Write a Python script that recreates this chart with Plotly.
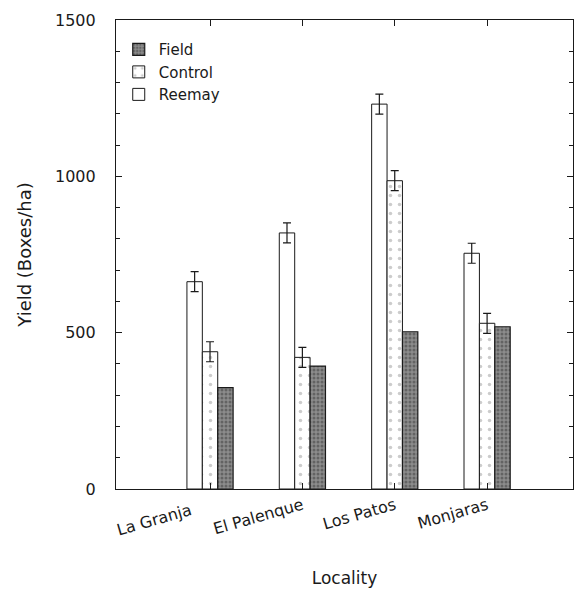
import plotly.graph_objects as go

localities = ["La Granja", "El Palenque", "Los Patos", "Monjaras"]
tick_text = ["La Granja\u00a0\u00a0\u00a0\u00a0", "El Palenque", "Los Patos", "Monjaras"]
reemay = [663, 819, 1231, 754]
control = [439, 421, 986, 530]
field = [324, 393, 503, 519]
reemay_err = [32, 32, 32, 32]
control_err = [32, 32, 32, 32]
y_ticks = [0, 500, 1000, 1500]

FONT = "DejaVu Sans"
INK = "#1a1a1a"

fig = go.Figure()
fig.add_trace(go.Bar(
    name="Reemay", x=localities, y=reemay,
    marker=dict(color="white", line=dict(color=INK, width=1)),
    error_y=dict(type="data", array=reemay_err, color=INK, thickness=1.2, width=4),
))
fig.add_trace(go.Bar(
    name="Control", x=localities, y=control,
    marker=dict(color="white", line=dict(color=INK, width=1),
                pattern=dict(shape=".", fgcolor="#9a9a9a", bgcolor="white",
                             size=9, solidity=0.12)),
    error_y=dict(type="data", array=control_err, color=INK, thickness=1.2, width=4),
))
fig.add_trace(go.Bar(
    name="Field", x=localities, y=field,
    marker=dict(color="#7a7a7a", line=dict(color=INK, width=1.2),
                pattern=dict(shape=".", fgcolor="#3a3a3a", bgcolor="#8c8c8c",
                             size=4, solidity=0.45)),
))

# the page body has an 8px margin, so the figure is offset and kept inside
# the visible part of the window
fig.update_layout(
    width=566, height=580,
    margin=dict(l=108, r=1, t=12, b=99, autoexpand=False),
    paper_bgcolor="white", plot_bgcolor="white",
    barmode="group", bargap=0.5, bargroupgap=0,
    font=dict(family=FONT, size=16, color=INK),
    showlegend=True,
    legend=dict(x=0.006, y=0.972, xanchor="left", yanchor="top",
                traceorder="reversed", bgcolor="rgba(0,0,0,0)",
                font=dict(size=15, color=INK), itemwidth=30,
                tracegroupgap=0),
)
fig.update_xaxes(
    type="category", range=[-1.018, 3.93],
    tickvals=localities, ticktext=tick_text,
    showline=True, linecolor=INK, linewidth=1.2, mirror="ticks",
    ticks="inside", ticklen=6, tickcolor=INK,
    tickangle=-16, tickfont=dict(size=16), ticklabelstandoff=0,
    showgrid=False, zeroline=False, automargin=False,
    title=dict(text="Locality", font=dict(size=17), standoff=40),
)
fig.update_yaxes(
    range=[0, 1500], tickvals=y_ticks,
    showline=True, linecolor=INK, linewidth=1.2, mirror="allticks",
    ticks="inside", ticklen=6, tickcolor=INK,
    minor=dict(ticks="inside", dtick=100, ticklen=4, tickcolor=INK),
    ticklabelstandoff=16, tickfont=dict(size=16),
    showgrid=False, zeroline=False, automargin=False,
    title=dict(text="Yield (Boxes/ha)", font=dict(size=18), standoff=18),
)

fig.write_html("out.html")
